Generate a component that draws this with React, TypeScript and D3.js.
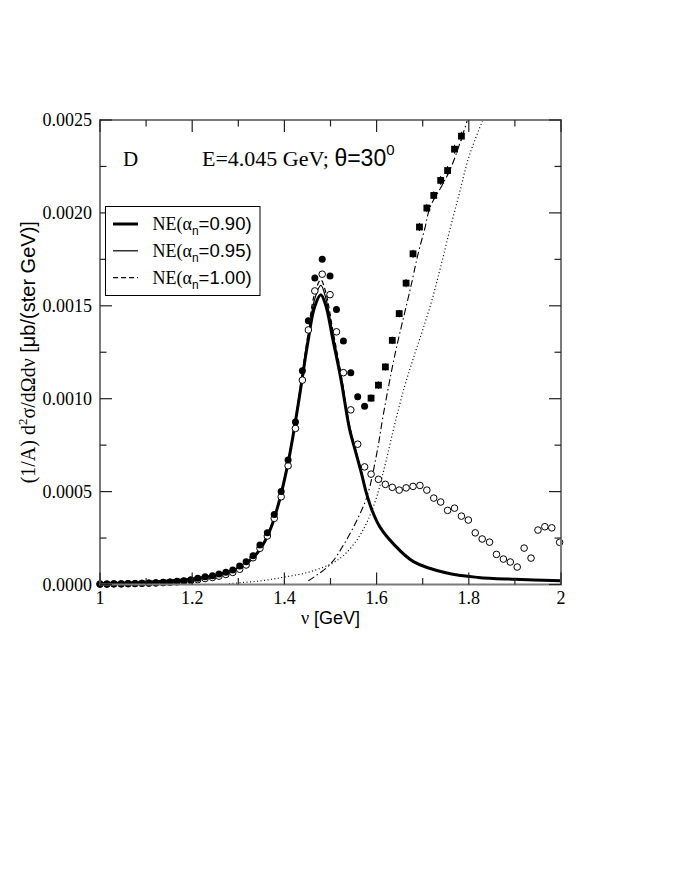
import React from "react";
import * as d3 from "d3";

// ---------- data ----------
const xMajorTicks = [1, 1.2, 1.4, 1.6, 1.8, 2];
const xTickLabels = ["1", "1.2", "1.4", "1.6", "1.8", "2"];
const xMinorTicks = [1.1, 1.3, 1.5, 1.7, 1.9];
const yMajorTicks = [0, 0.0005, 0.001, 0.0015, 0.002, 0.0025];
const yTickLabels = ["0.0000", "0.0005", "0.0010", "0.0015", "0.0020", "0.0025"];
const yMinorTicks = [0.00025, 0.00075, 0.00125, 0.00175, 0.00225];

// filled circles (data)
const filledNu = [1.0, 1.015, 1.03, 1.046, 1.061, 1.076, 1.091, 1.106, 1.121, 1.137, 1.152, 1.167, 1.182, 1.197, 1.212, 1.228, 1.244, 1.258, 1.273, 1.288, 1.303, 1.317, 1.332, 1.347, 1.363, 1.378, 1.393, 1.408, 1.424, 1.439, 1.452, 1.466, 1.482, 1.499, 1.513, 1.528, 1.544, 1.559, 1.574];
const filledXs = [0.000003, 0.000003, 0.000004, 0.000004, 0.000005, 0.000006, 0.000007, 0.000008, 0.00001, 0.000012, 0.000014, 0.000017, 0.00002, 0.000026, 0.000034, 0.000042, 0.000047, 0.000056, 0.000066, 0.000078, 0.0001, 0.000123, 0.000155, 0.000212, 0.000279, 0.000377, 0.0005, 0.00067, 0.000875, 0.00115, 0.00142, 0.00165, 0.00175, 0.00166, 0.00148, 0.00131, 0.00114, 0.00101, 0.00096];

// open circles (data)
const openNu = [1.0, 1.015, 1.03, 1.046, 1.061, 1.076, 1.091, 1.106, 1.121, 1.137, 1.152, 1.167, 1.182, 1.197, 1.212, 1.228, 1.244, 1.258, 1.273, 1.288, 1.303, 1.317, 1.332, 1.347, 1.363, 1.378, 1.393, 1.408, 1.424, 1.439, 1.452, 1.466, 1.482, 1.499, 1.513, 1.528, 1.544, 1.559, 1.574, 1.588, 1.604, 1.619, 1.634, 1.649, 1.664, 1.679, 1.694, 1.709, 1.724, 1.739, 1.754, 1.769, 1.784, 1.799, 1.814, 1.829, 1.845, 1.86, 1.875, 1.89, 1.905, 1.92, 1.935, 1.95, 1.965, 1.98, 1.997];
const openXs = [0.000002, 0.000002, 0.000003, 0.000003, 0.000004, 0.000005, 0.000006, 0.000007, 0.000008, 0.00001, 0.000012, 0.000014, 0.000017, 0.000021, 0.000026, 0.000032, 0.000038, 0.000045, 0.000054, 0.000065, 0.000082, 0.000105, 0.000144, 0.000195, 0.000261, 0.000356, 0.000472, 0.000639, 0.00084, 0.0011, 0.00137, 0.00158, 0.00167, 0.00156, 0.00136, 0.00114, 0.00094, 0.000755, 0.000633, 0.000594, 0.000566, 0.000539, 0.000523, 0.000508, 0.00052, 0.000528, 0.000533, 0.000508, 0.000465, 0.000444, 0.000399, 0.000411, 0.000368, 0.000347, 0.000278, 0.000245, 0.000228, 0.000162, 0.000137, 0.000121, 0.000094, 0.000196, 0.000142, 0.000293, 0.000311, 0.000305, 0.000227];

// filled squares with error bars
const squareNu = [1.588, 1.604, 1.619, 1.634, 1.649, 1.664, 1.679, 1.693, 1.709, 1.724, 1.739, 1.754, 1.769, 1.784];
const squareXs = [0.001003, 0.001073, 0.001171, 0.001314, 0.001458, 0.001622, 0.00178, 0.001924, 0.002026, 0.002094, 0.002175, 0.002228, 0.002343, 0.002413];
const squareErr = [0.00002, 0.00002, 0.00002, 0.00002, 0.00002, 0.000022, 0.000022, 0.000022, 0.000022, 0.000022, 0.000024, 0.000024, 0.000024, 0.000024];

// NE curves
const neNu = [1.0, 1.1, 1.2, 1.25, 1.3, 1.33, 1.35, 1.37, 1.39, 1.41, 1.43, 1.45, 1.465, 1.479, 1.49, 1.505, 1.523, 1.541, 1.555, 1.567, 1.578, 1.59, 1.607, 1.636, 1.68, 1.75, 1.82, 1.9, 2.0];
const ne090 = [0.000005, 0.000012, 0.00003, 0.000048, 0.000085, 0.00014, 0.0002, 0.0003, 0.00046, 0.00068, 0.00097, 0.00129, 0.00149, 0.00156, 0.0015, 0.00132, 0.0011, 0.00084, 0.00071, 0.0006, 0.00049, 0.0004, 0.00031, 0.00022, 0.000123, 0.000063, 0.000038, 0.000028, 0.00002];
const ne095 = [0.000005, 0.000012, 0.00003, 0.000048, 0.000086, 0.000141, 0.000201, 0.000302, 0.000463, 0.000686, 0.00098, 0.00131, 0.00153, 0.00161, 0.00154, 0.00135, 0.00112, 0.00085, 0.00072, 0.0006, 0.00049, 0.0004, 0.00031, 0.00022, 0.000123, 0.000063, 0.000038, 0.000028, 0.00002];
const ne100 = [0.000005, 0.000012, 0.00003, 0.000048, 0.000087, 0.000142, 0.000203, 0.000305, 0.000467, 0.000692, 0.00099, 0.00133, 0.00156, 0.00164, 0.00157, 0.00137, 0.00113, 0.00086, 0.00072, 0.00061, 0.0005, 0.0004, 0.00031, 0.00022, 0.000123, 0.000063, 0.000038, 0.000028, 0.00002];

// dash-dot curve
const dashDotNu = [1.452, 1.47, 1.5, 1.53, 1.56, 1.58, 1.6, 1.615, 1.64, 1.674, 1.69, 1.705, 1.716, 1.74, 1.759, 1.78, 1.797, 1.81];
const dashDotXs = [0.00002, 0.00005, 0.00011, 0.00022, 0.00036, 0.00048, 0.0007, 0.00092, 0.00124, 0.0016, 0.00178, 0.00192, 0.00203, 0.00214, 0.00223, 0.00237, 0.0025, 0.0026];

// dotted curve
const dottedNu = [1.28, 1.35, 1.4, 1.45, 1.5, 1.53, 1.56, 1.58, 1.6, 1.62, 1.64, 1.66, 1.68, 1.7, 1.72, 1.74, 1.76, 1.78, 1.8, 1.83, 1.845];
const dottedXs = [0.000005, 0.00002, 0.00004, 0.000065, 0.00011, 0.00016, 0.00025, 0.00034, 0.00047, 0.00066, 0.00087, 0.00106, 0.00122, 0.00137, 0.00153, 0.00172, 0.00192, 0.00211, 0.0023, 0.0025, 0.0026];

const legendLabels = ["0.90", "0.95", "1.00"];

// ---------- component ----------
const SERIF = "'Liberation Serif', 'Times New Roman', serif";
const SANS = "'Liberation Sans', Arial, sans-serif";

export default function App() {
  const left = 100, right = 561, top = 120, bottom = 584.5;
  const x = d3.scaleLinear().domain([1, 2]).range([left, right]);
  const y = d3.scaleLinear().domain([0, 0.0025]).range([bottom, top]);

  const line = (xs: number[], ys: number[]) =>
    d3.line<number>()
      .x((_, i) => x(xs[i]))
      .y((d) => y(d))
      .curve(d3.curveCatmullRom.alpha(0.5))(ys) as string;

  const frameColor = "#7a7a7a";
  const tickColor = "#222";
  const major = 12, minor = 6.5;

  const legendRows = [
    { w: 3, dash: undefined as string | undefined },
    { w: 1.2, dash: undefined as string | undefined },
    { w: 1.2, dash: "5,3" },
  ];

  return (
    <svg width={680} height={880} style={{ position: "absolute", left: 0, top: 0, background: "#fff" }}>
      <defs>
        <clipPath id="plotclip">
          <rect x={left} y={top} width={right - left} height={bottom - top} />
        </clipPath>
      </defs>
      <rect x={0} y={0} width={680} height={880} fill="#fff" />

      {/* curves */}
      <g clipPath="url(#plotclip)" fill="none" stroke="#000">
        <path d={line(dottedNu, dottedXs)} strokeWidth={1.2} strokeDasharray="1,2.5" />
        <path d={line(dashDotNu, dashDotXs)} strokeWidth={1.1} strokeDasharray="7,3,1.5,3" />
        <path d={line(neNu, ne100)} strokeWidth={1.2} strokeDasharray="5,3" />
        <path d={line(neNu, ne095)} strokeWidth={1.2} />
        <path d={line(neNu, ne090)} strokeWidth={3} />
      </g>

      {/* open circles */}
      <g>
        {openNu.map((v, i) => (
          <circle key={"o" + i} cx={x(v)} cy={y(openXs[i])} r={3.3} fill="#fff" stroke="#000" strokeWidth={1} />
        ))}
      </g>
      {/* filled circles */}
      <g>
        {filledNu.map((v, i) => (
          <circle key={"f" + i} cx={x(v)} cy={y(filledXs[i])} r={3.5} fill="#000" />
        ))}
      </g>
      {/* squares with error bars */}
      <g>
        {squareNu.map((v, i) => (
          <g key={"s" + i}>
            <line x1={x(v)} x2={x(v)} y1={y(squareXs[i] - squareErr[i])} y2={y(squareXs[i] + squareErr[i])} stroke="#000" strokeWidth={1} />
            <rect x={x(v) - 3.4} y={y(squareXs[i]) - 3.4} width={6.8} height={6.8} fill="#000" />
          </g>
        ))}
      </g>

      {/* frame */}
      <rect x={left} y={top} width={right - left} height={bottom - top} fill="none" stroke={frameColor} strokeWidth={2} />

      {/* ticks */}
      <g stroke={tickColor} strokeWidth={1.2}>
        {xMajorTicks.map((t, i) => (
          <g key={"xm" + i}>
            <line x1={x(t)} x2={x(t)} y1={bottom} y2={bottom - major} />
            <line x1={x(t)} x2={x(t)} y1={top} y2={top + major} />
          </g>
        ))}
        {xMinorTicks.map((t, i) => (
          <g key={"xn" + i}>
            <line x1={x(t)} x2={x(t)} y1={bottom} y2={bottom - minor} />
            <line x1={x(t)} x2={x(t)} y1={top} y2={top + minor} />
          </g>
        ))}
        {yMajorTicks.map((t, i) => (
          <g key={"ym" + i}>
            <line x1={left} x2={left + major} y1={y(t)} y2={y(t)} />
            <line x1={right} x2={right - major} y1={y(t)} y2={y(t)} />
          </g>
        ))}
        {yMinorTicks.map((t, i) => (
          <g key={"yn" + i}>
            <line x1={left} x2={left + minor} y1={y(t)} y2={y(t)} />
            <line x1={right} x2={right - minor} y1={y(t)} y2={y(t)} />
          </g>
        ))}
      </g>

      {/* tick labels */}
      <g fontFamily={SERIF} fontSize={18} fill="#000">
        {xMajorTicks.map((t, i) => (
          <text key={"xl" + i} x={x(t)} y={bottom + 19} textAnchor="middle">{xTickLabels[i]}</text>
        ))}
        {yMajorTicks.map((t, i) => (
          <text key={"yl" + i} x={left - 8} y={y(t) + 6} textAnchor="end">{yTickLabels[i]}</text>
        ))}
      </g>

      {/* axis labels */}
      <text x={(left + right) / 2} y={624} textAnchor="middle" fontSize={18} fill="#000">
        <tspan fontFamily={SERIF}>ν</tspan>
        <tspan fontFamily={SANS}> [GeV]</tspan>
      </text>
      <text transform={`translate(35,${(top + bottom) / 2}) rotate(-90)`} textAnchor="middle" fontSize={20} fill="#000">
        <tspan fontFamily={SERIF}>(1/A) d</tspan>
        <tspan fontFamily={SERIF} fontSize={13} dy={-8}>2</tspan>
        <tspan fontFamily={SERIF} dy={8}>σ/dΩdν</tspan>
        <tspan fontFamily={SANS}> [μb/(ster GeV)]</tspan>
      </text>

      {/* annotations */}
      <text x={123} y={166} fontFamily={SERIF} fontSize={21} fill="#000">D</text>
      <text x={202} y={166} fontSize={22} fill="#000">
        <tspan fontFamily={SERIF}>E=4.045 GeV; </tspan>
        <tspan fontFamily={SANS} fontSize={23}>θ=30</tspan>
        <tspan fontFamily={SANS} fontSize={15} dy={-11}>0</tspan>
      </text>

      {/* legend */}
      <rect x={105.5} y={206.5} width={154.5} height={89} fill="#fff" stroke="#000" strokeWidth={1} />
      {legendRows.map((r, i) => {
        const ly = 224 + i * 26.8;
        return (
          <g key={"lg" + i}>
            <line x1={113} x2={138} y1={ly} y2={ly} stroke="#000" strokeWidth={r.w} strokeDasharray={r.dash} />
            <text x={152.5} y={ly + 6} fontSize={18} fill="#000">
              <tspan fontFamily={SERIF}>NE(α</tspan>
              <tspan fontFamily={SANS} fontSize={12} dy={5}>n</tspan>
              <tspan fontFamily={SANS} fontSize={18.5} dy={-5}>={legendLabels[i]})</tspan>
            </text>
          </g>
        );
      })}
    </svg>
  );
}
